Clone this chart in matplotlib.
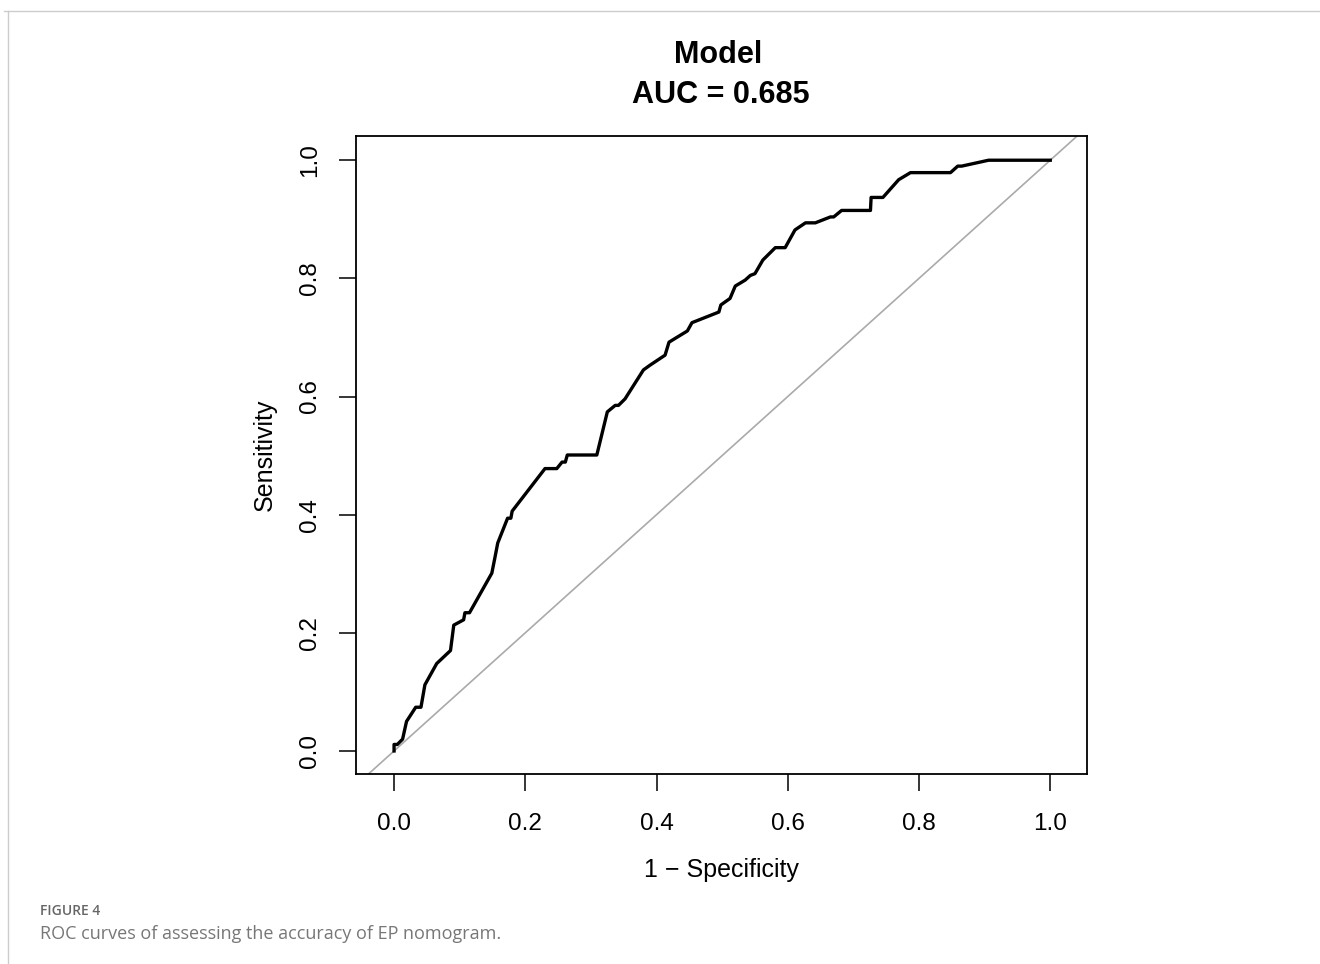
import numpy as np
import matplotlib.pyplot as plt
from matplotlib.lines import Line2D

# ROC curve points
fpr = [0, 0, 0.005, 0.013, 0.019, 0.033, 0.041, 0.047, 0.065, 0.086, 0.091,
       0.106, 0.108, 0.115, 0.149, 0.154, 0.158, 0.173, 0.178, 0.180, 0.230,
       0.248, 0.256, 0.261, 0.264, 0.309, 0.325, 0.337, 0.342, 0.352, 0.380,
       0.390, 0.413, 0.419, 0.447, 0.454, 0.495, 0.498, 0.512, 0.520, 0.535,
       0.543, 0.550, 0.562, 0.581, 0.596, 0.611, 0.627, 0.642, 0.665, 0.670,
       0.682, 0.726, 0.727, 0.745, 0.769, 0.787, 0.848, 0.859, 0.865, 0.906,
       1.0]
tpr = [0, 0.011, 0.011, 0.02, 0.05, 0.074, 0.074, 0.112, 0.148, 0.17, 0.213,
       0.222, 0.234, 0.234, 0.301, 0.329, 0.352, 0.394, 0.394, 0.406, 0.478,
       0.478, 0.489, 0.489, 0.501, 0.501, 0.574, 0.585, 0.585, 0.596, 0.645,
       0.653, 0.670, 0.692, 0.711, 0.725, 0.743, 0.755, 0.766, 0.787, 0.797,
       0.805, 0.808, 0.831, 0.852, 0.852, 0.882, 0.894, 0.894, 0.904, 0.904,
       0.915, 0.915, 0.937, 0.937, 0.967, 0.979, 0.979, 0.990, 0.990, 1.0,
       1.0]
ticks = [0.0, 0.2, 0.4, 0.6, 0.8, 1.0]
tick_labels = ["0.0", "0.2", "0.4", "0.6", "0.8", "1.0"]
auc = 0.685

plt.rcParams['font.family'] = ['Liberation Sans', 'DejaVu Sans']

fig = plt.figure(figsize=(13.2, 9.64), dpi=100)
ax = fig.add_axes([356 / 1320, 1 - 774 / 964, 731 / 1320, 638 / 964])

# chance diagonal, then the ROC curve
ax.axline((0, 0), (1, 1), color='#aaaaaa', lw=1.2, zorder=1)
ax.plot(fpr, tpr, color='black', lw=2.4, zorder=2)

ax.set_xlim(-0.058, 1.056)
ax.set_ylim(-0.039, 1.041)
ax.set_xticks(ticks)
ax.set_xticklabels(tick_labels)
ax.set_yticks(ticks)
ax.set_yticklabels(tick_labels, rotation=90, va='center')
ax.tick_params(axis='both', length=12, width=1.1, labelsize=17.5, direction='out')
ax.tick_params(axis='x', pad=16)
ax.tick_params(axis='y', pad=13)
for sp in ax.spines.values():
    sp.set_linewidth(1.3)

ax.set_xlabel("1 \u2212 Specificity", fontsize=18)
ax.set_ylabel("Sensitivity", fontsize=18)
ax.xaxis.set_label_coords(0.5, (774 - 870) / 638)
ax.xaxis.label.set_va('center')
ax.yaxis.set_label_coords((265 - 356) / 731, 0.5)
ax.yaxis.label.set_va('center')

# two-line bold title
fig.text(718 / 1320, 1 - 55 / 964, "Model", ha='center', va='center',
         fontsize=22, fontweight='bold')
fig.text(721 / 1320, 1 - 95 / 964, "AUC = %.3f" % auc, ha='center', va='center',
         fontsize=22, fontweight='bold')

# caption below the panel
fig.text(40 / 1320, 1 - 915 / 964, "FIGURE 4", ha='left', va='baseline',
         fontsize=10, color='#666666', family=['Open Sans', 'DejaVu Sans'],
         fontweight='semibold')
fig.text(40 / 1320, 1 - 939 / 964, "ROC curves of assessing the accuracy of EP nomogram.",
         ha='left', va='baseline', fontsize=13, color='#777777',
         family=['Open Sans', 'DejaVu Sans'])

# thin page border at top and left
fig.add_artist(Line2D([4 / 1320, 1], [1 - 11 / 964, 1 - 11 / 964],
                      transform=fig.transFigure, color='#cccccc', lw=1))
fig.add_artist(Line2D([8 / 1320, 8 / 1320], [0, 1 - 11 / 964],
                      transform=fig.transFigure, color='#cccccc', lw=1))

fig.savefig('out.png', dpi=100)
